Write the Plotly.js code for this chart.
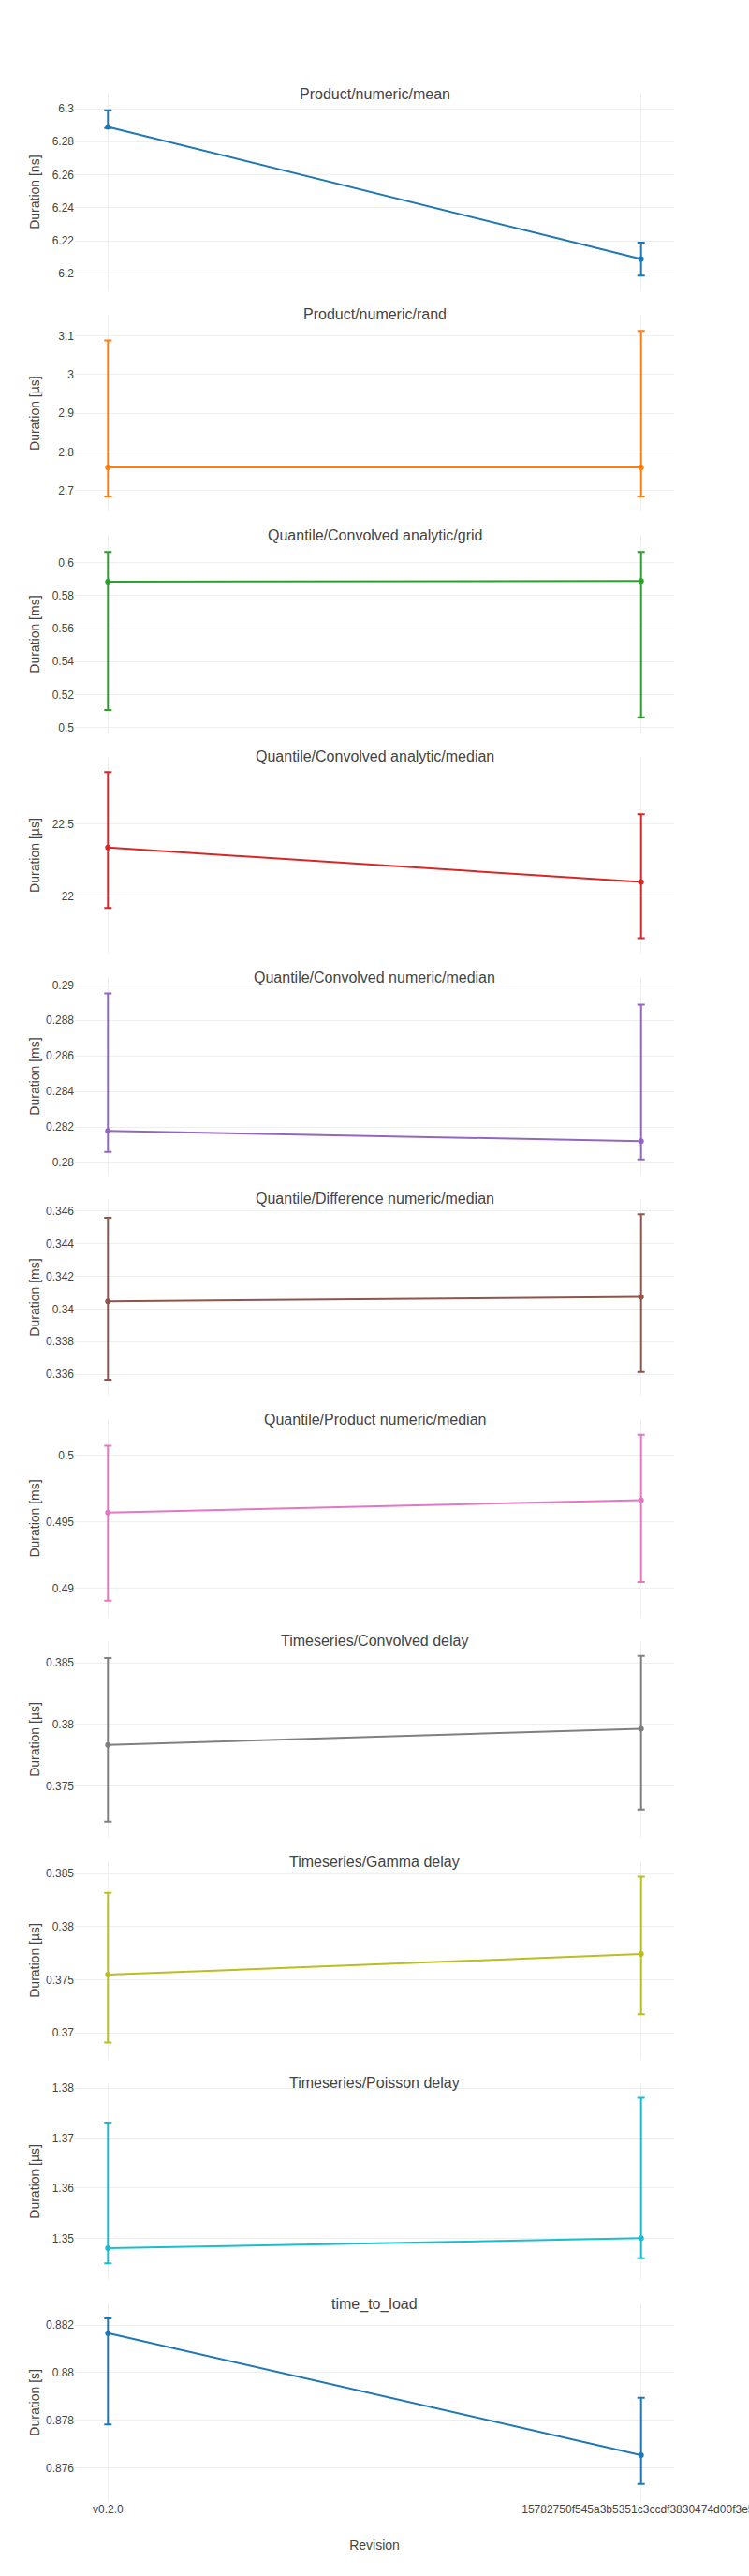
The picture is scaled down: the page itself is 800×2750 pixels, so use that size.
<!DOCTYPE html>
<html>
<head>
<meta charset="utf-8">
<script src="https://cdn.plot.ly/plotly-3.0.1.min.js"></script>
<style>
  html, body { margin: 0; padding: 0; background: #fff; }
  #chart { width: 800px; height: 2750px; }
</style>
</head>
<body>
<div id="chart"></div>
<script>
// Revisions compared on the shared x axis
const revisions = ['v0.2.0', '15782750f545a3b5351c3ccdf3830474d00f3e5a'];

// One panel per benchmark
const benchmarks = [
  'Product/numeric/mean',
  'Product/numeric/rand',
  'Quantile/Convolved analytic/grid',
  'Quantile/Convolved analytic/median',
  'Quantile/Convolved numeric/median',
  'Quantile/Difference numeric/median',
  'Quantile/Product numeric/median',
  'Timeseries/Convolved delay',
  'Timeseries/Gamma delay',
  'Timeseries/Poisson delay',
  'time_to_load'
];
const units = ['ns', 'µs', 'ms', 'µs', 'ms', 'ms', 'ms', 'µs', 'µs', 'µs', 's'];

// Measured duration per revision, with the upper / lower bounds of the interval
const durations = [
  [6.289, 6.209],
  [2.7605, 2.7605],
  [0.5884, 0.5888],
  [22.338, 22.0996],
  [0.28179, 0.28121],
  [0.34047, 0.34074],
  [0.49568, 0.49662],
  [0.37834, 0.37966],
  [0.37547, 0.37741],
  [1.348, 1.35],
  [0.88166, 0.87654]
];
const upperBounds = [
  [6.299, 6.2189],
  [3.0879, 3.1129],
  [0.60644, 0.6064],
  [22.8615, 22.569],
  [0.28951, 0.28889],
  [0.3456, 0.34581],
  [0.5007, 0.50153],
  [0.38538, 0.38556],
  [0.38318, 0.38471],
  [1.37308, 1.37807],
  [0.88228, 0.87895]
];
const lowerBounds = [
  [6.2883, 6.1989],
  [2.6855, 2.6855],
  [0.5106, 0.5061],
  [21.92, 21.71],
  [0.2806, 0.28019],
  [0.33566, 0.33613],
  [0.48906, 0.49045],
  [0.37211, 0.3731],
  [0.36909, 0.37174],
  [1.34495, 1.346],
  [0.87783, 0.87533]
];

// Visible y range of each panel
const yRanges = [
  [6.1898, 6.3091],
  [2.646, 3.1548],
  [0.4968, 0.6163],
  [21.6017, 22.9675],
  [0.27932, 0.29039],
  [0.33468, 0.34675],
  [0.48784, 0.50265],
  [0.3708, 0.38677],
  [0.36753, 0.38609],
  [1.34164, 1.381],
  [0.87461, 0.88288]
];

const palette = ['#1f77b4', '#ff7f0e', '#2ca02c', '#d62728', '#9467bd',
                 '#8c564b', '#e377c2', '#7f7f7f', '#bcbd22', '#17becf'];

const nRows = benchmarks.length;
const gap = 0.01;
const rowH = (1 - gap * (nRows - 1)) / nRows;

const traces = [];
const annotations = [];
const layout = {
  width: 800,
  height: 2750,
  margin: { l: 80, r: 80, t: 100, b: 80 },
  showlegend: false,
  paper_bgcolor: '#fff',
  plot_bgcolor: '#fff',
  font: { family: 'Arial, "Liberation Sans", sans-serif', color: '#444', size: 12 },
  xaxis: {
    type: 'category',
    range: [-0.062, 1.062],
    anchor: 'y' + nRows,
    showgrid: true,
    gridcolor: '#eee',
    title: { text: 'Revision', font: { size: 14 } }
  }
};

benchmarks.forEach((name, i) => {
  const axNum = i + 1;
  const yKey = 'yaxis' + (axNum === 1 ? '' : axNum);
  const yRef = 'y' + (axNum === 1 ? '' : axNum);
  const top = 1 - i * (rowH + gap);
  const bottom = top - rowH;
  const color = palette[i % palette.length];
  const vals = durations[i];

  traces.push({
    type: 'scatter',
    mode: 'lines+markers',
    name: name,
    x: revisions,
    y: vals,
    xaxis: 'x',
    yaxis: yRef,
    line: { color: color, width: 2 },
    marker: { color: color, size: 6 },
    error_y: {
      type: 'data',
      symmetric: false,
      array: upperBounds[i].map((u, k) => u - vals[k]),
      arrayminus: lowerBounds[i].map((l, k) => vals[k] - l),
      color: color,
      thickness: 2,
      width: 4
    }
  });

  layout[yKey] = {
    domain: [bottom, top],
    anchor: 'x',
    range: yRanges[i],
    gridcolor: '#eee',
    zeroline: false,
    title: { text: 'Duration [' + units[i] + ']', font: { size: 14 } }
  };

  annotations.push({
    text: name,
    xref: 'paper',
    yref: 'paper',
    x: 0.5,
    y: top,
    xanchor: 'center',
    yanchor: 'middle',
    showarrow: false,
    font: { size: 16, color: '#444' }
  });
});

layout.annotations = annotations;

Plotly.newPlot('chart', traces, layout, { displayModeBar: false, staticPlot: true });
</script>
</body>
</html>
